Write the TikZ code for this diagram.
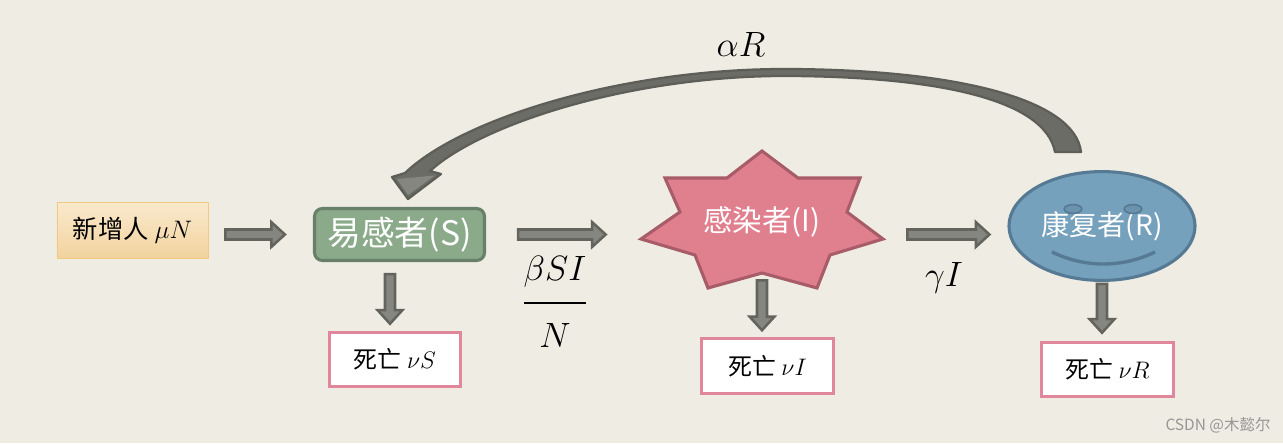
\documentclass[tikz,border=0pt]{standalone}
\usepackage{fix-cm}
\usepackage{fontspec}
\newfontfamily\cjk{Noto Sans CJK SC}
\usepackage{amsmath}
\usetikzlibrary{calc, shapes.geometric}
\definecolor{bgcream}{RGB}{238,236,227}
\definecolor{arrgray}{RGB}{134,134,128}
\definecolor{arrdark}{RGB}{100,100,94}
\definecolor{curvgray}{RGB}{108,108,102}
\definecolor{curvdark}{RGB}{94,94,89}
\definecolor{newtop}{RGB}{250,233,205}
\definecolor{newbot}{RGB}{242,211,158}
\definecolor{newline}{RGB}{243,201,128}
\definecolor{susfill}{RGB}{139,170,138}
\definecolor{susline}{RGB}{104,128,103}
\definecolor{inffill}{RGB}{224,128,143}
\definecolor{infline}{RGB}{168,92,104}
\definecolor{recfill}{RGB}{118,161,189}
\definecolor{recline}{RGB}{86,122,147}
\definecolor{deadpink}{RGB}{224,135,155}
\definecolor{wmgray}{RGB}{150,150,150}

\begin{document}
\begin{tikzpicture}[x=0.025cm, y=-0.025cm,
  dbox/.style={draw=deadpink, line width=2.2pt, fill=white, minimum width=3.28cm, minimum height=1.36cm, font=\cjk\fontsize{17}{20}\selectfont},
  mlab/.style={font=\fontsize{25}{30}\selectfont},
  blk/.style={draw=arrdark, fill=arrgray, line width=1.8pt, line join=miter,
    to path={($(\tikztostart)!0.125cm!-90:(\tikztotarget)$)
      -- ($(\tikztotarget)!0.34cm!(\tikztostart)!0.125cm!-90:(\tikztotarget)$)
      -- ($(\tikztotarget)!0.34cm!(\tikztostart)!0.31cm!-90:(\tikztotarget)$)
      -- (\tikztotarget)
      -- ($(\tikztotarget)!0.34cm!(\tikztostart)!0.31cm!90:(\tikztotarget)$)
      -- ($(\tikztotarget)!0.34cm!(\tikztostart)!0.125cm!90:(\tikztotarget)$)
      -- ($(\tikztostart)!0.125cm!90:(\tikztotarget)$) -- cycle}}
]
  \fill[bgcream] (0,0) rectangle (1283,443);
  \useasboundingbox (0,0) rectangle (1283,443);

  \node[draw=newline, line width=0.6pt, top color=newtop, bottom color=newbot, minimum width=3.775cm, minimum height=1.4cm, font=\cjk\fontsize{18}{22}\selectfont] (newp) at (132.5,230) {新增人 $\mu N$};
  \node[draw=susline, line width=2.2pt, fill=susfill, rounded corners=0.2cm, minimum width=4.25cm, minimum height=1.3cm, text=white, font=\cjk\fontsize{24}{28}\selectfont] (sus) at (399.5,234.5) {易感者(S)};

  \coordinate (infc) at (762,222);
  \draw[draw=infline, fill=inffill, line width=2.2pt, line join=miter, shift={(infc)}]
    (0,-71) -- (36,-44) -- (98,-44) -- (85,-10) -- (121,17) -- (68,33) -- (55,66) -- (0,51)
    -- (-54,66) -- (-67,33) -- (-121,17) -- (-82,-10) -- (-97,-44) -- (-35,-44) -- cycle;
  \node[minimum width=6.05cm, minimum height=2.55cm, text=white, font=\cjk\fontsize{21}{25}\selectfont] (inf) at (infc) {感染者(I)};

  \node[ellipse, draw=recline, line width=2.2pt, fill=recfill, minimum width=4.65cm, minimum height=2.72cm, text=white, font=\cjk\fontsize{20}{24}\selectfont] (rec) at (1102,226) {康复者(R)};
  \begin{scope}[shift={(rec.center)}]
    \draw[draw=recline, fill=recfill!65!recline, line width=1.2pt] (-29,-17) ellipse [x radius=0.22cm, y radius=0.11cm];
    \draw[draw=recline, fill=recfill!65!recline, line width=1.2pt] (31,-17) ellipse [x radius=0.22cm, y radius=0.11cm];
    \draw[recline, line width=2.4pt] (-50,26) .. controls (-17,42) and (20,42) .. (53,26);
  \end{scope}

  \node[dbox] (dS) at (395,359.5) {死亡 $\nu S$};
  \node[dbox] (dI) at (767.5,366) {死亡 $\nu I$};
  \node[dbox] (dR) at (1107.5,369.5) {死亡 $\nu R$};

  \coordinate (a1s) at ($(newp.east |- sus.west)+(17,0)$);
  \coordinate (a1e) at ($(sus.west)+(-28,0)$);
  \coordinate (a2s) at ($(sus.east)+(32,0)$);
  \coordinate (a2e) at ($(inf.west |- sus.east)+(-35,0)$);
  \coordinate (a3s) at ($(inf.east |- sus.east)+(24,0)$);
  \coordinate (a3e) at ($(rec.west |- sus.east)+(-18,0)$);
  \coordinate (dsa) at ($(sus.south)+(-9.5,12)$);
  \coordinate (dsb) at ($(dsa |- dS.north)+(0,-7)$);
  \coordinate (dia) at ($(inf.south)+(0,7)$);
  \coordinate (dib) at ($(dia |- dI.north)+(0,-7)$);
  \coordinate (dra) at ($(rec.south)+(0,2)$);
  \coordinate (drb) at ($(dra |- dR.north)+(0,-8)$);
  \draw[blk] (a1s) to (a1e);
  \draw[blk] (a2s) to (a2e);
  \draw[blk] (a3s) to (a3e);
  \draw[blk] (dsa) to (dsb);
  \draw[blk] (dia) to (dib);
  \draw[blk] (dra) to (drb);

  \filldraw[draw=curvdark, fill=curvgray, line width=1.6pt, line join=round]
    (1081,152) .. controls (1075,100) and (960,70) .. (790,69)
    .. controls (620,68) and (460,120) .. (405,173)
    -- (392,177) -- (408,199) -- (441,174) -- (430,171)
    .. controls (480,125) and (630,75) .. (790,76)
    .. controls (940,77) and (1045,100) .. (1055,152) -- cycle;
  \fill[arrgray] (397,179) -- (408,195) -- (435,175.5) -- cycle;

  \node[mlab] (alab) at (741,44) {$\alpha R$};
  \node[mlab] (blab) at (555,302) {$\genfrac{}{}{1.6pt}{0}{\beta SI\rule[-0.4em]{0pt}{0pt}}{\rule{0pt}{1.05em}N}$};
  \node[mlab] (glab) at (944,278) {$\gamma I$};
  \node[text=wmgray, font=\cjk\fontsize{11}{13}\selectfont] (mark) at (1218,425) {CSDN @木懿尔};
\end{tikzpicture}
\end{document}
